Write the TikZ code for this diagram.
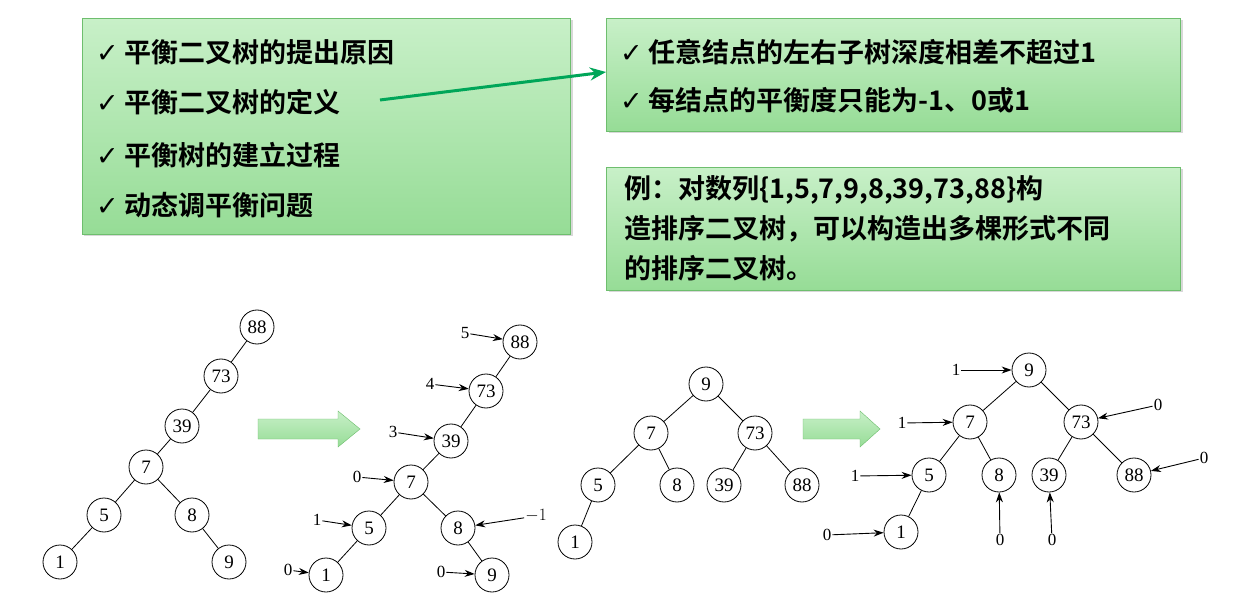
\documentclass[tikz,border=0pt]{standalone}
\usepackage{fontspec}
\setmainfont{Liberation Serif}
\newfontfamily\cjk{Noto Sans CJK SC}[BoldFont={* Bold}]
\newfontfamily\sym{DejaVu Sans}
\usetikzlibrary{arrows.meta,shadows}
\definecolor{gtop}{RGB}{200,240,200}
\definecolor{gbot}{RGB}{150,220,150}
\definecolor{gline}{RGB}{110,190,110}
\begin{document}
\begin{tikzpicture}[x=1pt,y=-1pt,
  gbox/.style={draw=gline,top color=gtop,bottom color=gbot,drop shadow={opacity=0.3}},
  txt/.style={anchor=west,font=\cjk\bfseries\fontsize{27}{36}\selectfont,inner sep=0},
  tn/.style={circle,draw,line width=0.8pt,minimum size=34pt,inner sep=0,font=\fontsize{19}{20}\selectfont},
  lab/.style={font=\fontsize{17}{18}\selectfont,inner sep=1pt},
  ed/.style={line width=0.8pt},
  pa/.style={-{Stealth[length=10pt,width=7pt]},line width=0.9pt},
  barrow/.style={draw=gline,top color=gtop,bottom color=gbot}]
\useasboundingbox (0,0) rectangle (1259,596);
\fill[white] (0,0) rectangle (1259,596);
% boxes
\node[gbox,minimum width=488pt,minimum height=216pt,anchor=north west] (b1) at (82,18) {};
\node[gbox,minimum width=574pt,minimum height=113pt,anchor=north west] (b2) at (606,18) {};
\node[gbox,minimum width=574pt,minimum height=123pt,anchor=north west] (b3) at (606,167) {};
\node[txt] (t1) at (96,52) {{\sym ✓} 平衡二叉树的提出原因};
\node[txt] (t2) at (96,102) {{\sym ✓} 平衡二叉树的定义};
\node[txt] (t3) at (96,155) {{\sym ✓} 平衡树的建立过程};
\node[txt] (t4) at (96,205) {{\sym ✓} 动态调平衡问题};
\node[txt] (t5) at (620,52) {{\sym ✓} 任意结点的左右子树深度相差不超过1};
\node[txt] (t6) at (620,100) {{\sym ✓} 每结点的平衡度只能为-1、0或1};
\node[txt] (t7) at (624,190) {例：对数列\{1,5,7,9,8,39,73,88\}构};
\node[txt] (t8) at (624,229) {造排序二叉树，可以构造出多棵形式不同};
\node[txt] (t9) at (624,268) {的排序二叉树。};
\coordinate (as) at (380,100);
\draw[-{Stealth[length=16pt,width=13pt]},line width=3pt,color=teal!70!green] (as) -- (b2.west|-0,72);
% block arrows
\path[barrow] (258,419) -- (338,419) -- (338,411) -- (360,429) -- (338,447) -- (338,439) -- (258,439) -- cycle;
\path[barrow] (803,419) -- (860,419) -- (860,411) -- (880,429) -- (860,447) -- (860,439) -- (803,439) -- cycle;
% tree 1
\node[tn] (a88) at (257,327) {88};
\node[tn] (a73) at (221,376) {73};
\node[tn] (a39) at (182,426) {39};
\node[tn] (a7) at (146,467) {7};
\node[tn] (a5) at (104,515) {5};
\node[tn] (a8) at (192,515) {8};
\node[tn] (a1) at (60,562) {1};
\node[tn] (a9) at (229,562) {9};
\draw[ed] (a88)--(a73) (a73)--(a39) (a39)--(a7) (a7)--(a5) (a7)--(a8) (a5)--(a1) (a8)--(a9);
% tree 2
\node[tn] (b88) at (520,342) {88};
\node[tn] (b73) at (486,391) {73};
\node[tn] (b39) at (451,441) {39};
\node[tn] (b7) at (411,482) {7};
\node[tn] (b5) at (369,528) {5};
\node[tn] (b8) at (458,528) {8};
\node[tn] (b1) at (326,575) {1};
\node[tn] (b9) at (492,575) {9};
\draw[ed] (b88)--(b73) (b73)--(b39) (b39)--(b7) (b7)--(b5) (b7)--(b8) (b5)--(b1) (b8)--(b9);
\node[lab] (l1) at (465,333) {5}; \draw[pa] (l1) -- (b88);
\node[lab] (l2) at (430,384) {4}; \draw[pa] (l2) -- (b73);
\node[lab] (l3) at (393,432) {3}; \draw[pa] (l3) -- (b39);
\node[lab] (l4) at (357,477) {0}; \draw[pa] (l4) -- (b7);
\node[lab] (l5) at (317,520) {1}; \draw[pa] (l5) -- (b5);
\node[lab] (l6) at (536,516) {$-1$}; \draw[pa] (l6) -- (b8);
\node[lab] (l7) at (288,570) {0}; \draw[pa] (l7) -- (b1);
\node[lab] (l8) at (441,572) {0}; \draw[pa] (l8) -- (b9);
% tree 3
\node[tn] (c9) at (706,384) {9};
\node[tn] (c7) at (651,433) {7};
\node[tn] (c73) at (755,433) {73};
\node[tn] (c5) at (598,485) {5};
\node[tn] (c8) at (677,485) {8};
\node[tn] (c39) at (724,485) {39};
\node[tn] (c88) at (802,485) {88};
\node[tn] (c1) at (575,542) {1};
\draw[ed] (c9)--(c7) (c9)--(c73) (c7)--(c5) (c7)--(c8) (c73)--(c39) (c73)--(c88) (c5)--(c1);
% tree 4
\node[tn] (d9) at (1029,370) {9};
\node[tn] (d7) at (970,422) {7};
\node[tn] (d73) at (1081,422) {73};
\node[tn] (d5) at (929,475) {5};
\node[tn] (d8) at (999,475) {8};
\node[tn] (d39) at (1049,475) {39};
\node[tn] (d88) at (1134,475) {88};
\node[tn] (d1) at (901,532) {1};
\draw[ed] (d9)--(d7) (d9)--(d73) (d7)--(d5) (d7)--(d8) (d73)--(d39) (d73)--(d88) (d5)--(d1);
\node[lab] (m1) at (956,370) {1}; \draw[pa] (m1) -- (d9);
\node[lab] (m2) at (902,423) {1}; \draw[pa] (m2) -- (d7);
\node[lab] (m3) at (855,476) {1}; \draw[pa] (m3) -- (d5);
\node[lab] (m4) at (827,535) {0}; \draw[pa] (m4) -- (d1);
\node[lab] (m5) at (1000,540) {0}; \draw[pa] (m5) -- (d8);
\node[lab] (m6) at (1052,540) {0}; \draw[pa] (m6) -- (d39);
\node[lab] (m7) at (1158,405) {0}; \draw[pa] (m7) -- (d73);
\node[lab] (m8) at (1204,458) {0}; \draw[pa] (m8) -- (d88);
\end{tikzpicture}
\end{document}
